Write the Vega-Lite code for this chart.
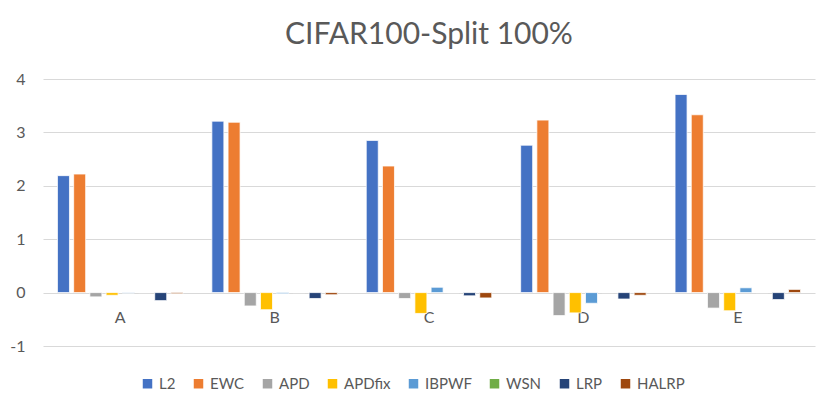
{
  "$schema": "https://vega.github.io/schema/vega-lite/v6.json",
  "autosize": "none",
  "width": 772,
  "height": 267,
  "padding": {"left": 43, "top": 79, "right": 15, "bottom": 69},
  "background": "white",
  "title": {
    "text": "CIFAR100-Split 100%",
    "fontSize": 30,
    "font": "Lato",
    "fontWeight": "normal",
    "color": "#595959",
    "anchor": "middle",
    "offset": 21
  },
  "data": {
    "values": [
      {"group": "A", "method": "L2", "value": 2.19},
      {"group": "A", "method": "EWC", "value": 2.22},
      {"group": "A", "method": "APD", "value": -0.08},
      {"group": "A", "method": "APDfix", "value": -0.05},
      {"group": "A", "method": "IBPWF", "value": -0.01},
      {"group": "A", "method": "WSN", "value": 0},
      {"group": "A", "method": "LRP", "value": -0.15},
      {"group": "A", "method": "HALRP", "value": -0.02},
      {"group": "B", "method": "L2", "value": 3.21},
      {"group": "B", "method": "EWC", "value": 3.19},
      {"group": "B", "method": "APD", "value": -0.25},
      {"group": "B", "method": "APDfix", "value": -0.32},
      {"group": "B", "method": "IBPWF", "value": -0.02},
      {"group": "B", "method": "WSN", "value": 0},
      {"group": "B", "method": "LRP", "value": -0.11},
      {"group": "B", "method": "HALRP", "value": -0.04},
      {"group": "C", "method": "L2", "value": 2.85},
      {"group": "C", "method": "EWC", "value": 2.37},
      {"group": "C", "method": "APD", "value": -0.11},
      {"group": "C", "method": "APDfix", "value": -0.39},
      {"group": "C", "method": "IBPWF", "value": 0.1},
      {"group": "C", "method": "WSN", "value": 0},
      {"group": "C", "method": "LRP", "value": -0.06},
      {"group": "C", "method": "HALRP", "value": -0.1},
      {"group": "D", "method": "L2", "value": 2.76},
      {"group": "D", "method": "EWC", "value": 3.23},
      {"group": "D", "method": "APD", "value": -0.43},
      {"group": "D", "method": "APDfix", "value": -0.38},
      {"group": "D", "method": "IBPWF", "value": -0.2},
      {"group": "D", "method": "WSN", "value": 0},
      {"group": "D", "method": "LRP", "value": -0.12},
      {"group": "D", "method": "HALRP", "value": -0.05},
      {"group": "E", "method": "L2", "value": 3.71},
      {"group": "E", "method": "EWC", "value": 3.33},
      {"group": "E", "method": "APD", "value": -0.29},
      {"group": "E", "method": "APDfix", "value": -0.34},
      {"group": "E", "method": "IBPWF", "value": 0.09},
      {"group": "E", "method": "WSN", "value": 0},
      {"group": "E", "method": "LRP", "value": -0.13},
      {"group": "E", "method": "HALRP", "value": 0.06}
    ]
  },
  "mark": {"type": "bar", "stroke": "white", "strokeWidth": 0.75},
  "encoding": {
    "x": {
      "field": "group",
      "type": "nominal",
      "title": null,
      "scale": {"paddingInner": 0.16, "paddingOuter": 0.08},
      "axis": {
        "orient": "bottom",
        "offset": -53,
        "domain": false,
        "ticks": false,
        "labelAngle": 0,
        "labelPadding": 16,
        "labelFont": "Lato",
        "labelFontSize": 16,
        "labelColor": "#595959"
      }
    },
    "xOffset": {
      "field": "method",
      "type": "nominal",
      "sort": ["L2", "EWC", "APD", "APDfix", "IBPWF", "WSN", "LRP", "HALRP"],
      "scale": {"paddingInner": 0.26, "paddingOuter": 0.13}
    },
    "y": {
      "field": "value",
      "type": "quantitative",
      "title": null,
      "scale": {"domain": [-1, 4], "nice": false},
      "axis": {
        "values": [-1, 0, 1, 2, 3, 4],
        "labelExpr": "toString(datum.value)",
        "domain": false,
        "ticks": false,
        "labelPadding": 18,
        "labelFont": "Lato",
        "labelFontSize": 16,
        "labelColor": "#595959",
        "gridColor": "#d9d9d9",
        "gridWidth": 1
      }
    },
    "color": {
      "field": "method",
      "type": "nominal",
      "title": null,
      "sort": ["L2", "EWC", "APD", "APDfix", "IBPWF", "WSN", "LRP", "HALRP"],
      "scale": {
        "domain": ["L2", "EWC", "APD", "APDfix", "IBPWF", "WSN", "LRP", "HALRP"],
        "range": ["#4472C4", "#ED7D31", "#A5A5A5", "#FFC000", "#5B9BD5", "#70AD47", "#264478", "#9E480E"]
      },
      "legend": {
        "orient": "none",
        "legendX": 97,
        "legendY": 297,
        "direction": "horizontal",
        "columns": 8,
        "symbolType": "square",
        "symbolSize": 90,
        "symbolStrokeWidth": 0,
        "labelFont": "Lato",
        "labelFontSize": 15,
        "labelColor": "#595959",
        "columnPadding": 15,
        "labelOffset": 4
      }
    }
  },
  "config": {
    "view": {"stroke": null}
  }
}
